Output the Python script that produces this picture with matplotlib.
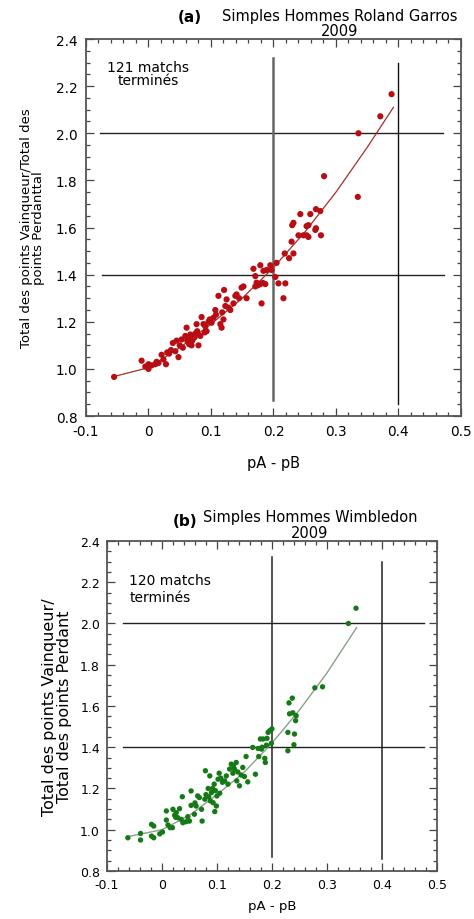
import matplotlib
matplotlib.use("Agg")
import matplotlib.pyplot as plt
from matplotlib.ticker import MultipleLocator

# ---------------- Data: panel (a) Roland Garros 2009 ----------------
rg_x = [-0.055, -0.011, -0.005, 0.0, 0.0, 0.005, 0.011, 0.016, 0.021, 0.024,
        0.028, 0.03, 0.033, 0.039, 0.043, 0.045, 0.048, 0.05, 0.053, 0.059,
        0.061, 0.064, 0.067, 0.069, 0.072, 0.075, 0.077, 0.08, 0.083, 0.085,
        0.091, 0.093, 0.096, 0.101, 0.104, 0.107, 0.112, 0.115, 0.117, 0.12,
        0.121, 0.123, 0.125, 0.131, 0.136, 0.139, 0.141, 0.149, 0.152, 0.157,
        0.168, 0.171, 0.171, 0.173, 0.179, 0.179, 0.181, 0.184, 0.187, 0.189,
        0.195, 0.197, 0.203, 0.205, 0.208, 0.216, 0.219, 0.218, 0.225, 0.229,
        0.23, 0.232, 0.232, 0.24, 0.243, 0.248, 0.253, 0.256, 0.256, 0.259,
        0.267, 0.268, 0.275, 0.276, 0.281, 0.336, 0.335, 0.371, 0.389,
        0.062, 0.07, 0.078, 0.088, 0.098, 0.108, 0.118, 0.128, 0.145, 0.036,
        0.013, 0.055, 0.065, 0.074, 0.09, 0.175, 0.183, 0.253, 0.268]
rg_y = [0.966, 1.035, 1.01, 1.0, 1.02, 1.015, 1.02, 1.025, 1.06, 1.04,
        1.02, 1.07, 1.065, 1.11, 1.075, 1.12, 1.05, 1.10, 1.125, 1.14,
        1.175, 1.125, 1.146, 1.10, 1.13, 1.15, 1.19, 1.10, 1.14, 1.22,
        1.18, 1.16, 1.20, 1.196, 1.217, 1.25, 1.31, 1.19, 1.175, 1.21,
        1.335, 1.267, 1.295, 1.25, 1.278, 1.31, 1.316, 1.345, 1.35, 1.30,
        1.425, 1.394, 1.35, 1.366, 1.36, 1.44, 1.278, 1.416, 1.36, 1.42,
        1.44, 1.42, 1.39, 1.45, 1.363, 1.30, 1.363, 1.49, 1.47, 1.54,
        1.61, 1.62, 1.49, 1.567, 1.657, 1.567, 1.567, 1.56, 1.61, 1.657,
        1.59, 1.678, 1.67, 1.567, 1.818, 2.0, 1.73, 2.072, 2.166,
        1.12, 1.12, 1.16, 1.19, 1.21, 1.23, 1.24, 1.26, 1.30, 1.08,
        1.03, 1.09, 1.105, 1.135, 1.155, 1.355, 1.365, 1.606, 1.597]
rg_fit_x = [-0.055, 0.0, 0.05, 0.1, 0.15, 0.2, 0.25, 0.3, 0.35, 0.392]
rg_fit_y = [0.968, 1.005, 1.09, 1.19, 1.30, 1.43, 1.58, 1.75, 1.94, 2.11]

# ---------------- Data: panel (b) Wimbledon 2009 ----------------
wb_x = [-0.062, -0.039, -0.039, -0.019, -0.015, -0.019, -0.015, -0.004, 0.001,
        0.008, 0.011, 0.015, 0.019, 0.008, 0.02, 0.023, 0.026, 0.029, 0.032,
        0.035, 0.037, 0.038, 0.044, 0.047, 0.05, 0.053, 0.053, 0.059, 0.062,
        0.065, 0.068, 0.072, 0.073, 0.078, 0.079, 0.084, 0.085, 0.087, 0.088,
        0.092, 0.093, 0.095, 0.096, 0.099, 0.1, 0.102, 0.104, 0.105, 0.114,
        0.117, 0.12, 0.123, 0.126, 0.129, 0.132, 0.135, 0.136, 0.141, 0.144,
        0.147, 0.15, 0.153, 0.156, 0.165, 0.17, 0.175, 0.176, 0.179, 0.181,
        0.184, 0.187, 0.188, 0.19, 0.191, 0.193, 0.196, 0.199, 0.2,
        0.229, 0.229, 0.231, 0.232, 0.237, 0.238, 0.24, 0.241, 0.243, 0.244,
        0.278, 0.292, 0.339, 0.353,
        0.09, 0.097, 0.11, 0.138, 0.06, 0.025, 0.08, 0.107, 0.13, 0.182]
wb_y = [0.961, 0.982, 0.95, 1.026, 1.018, 0.969, 0.961, 0.98, 0.989,
        1.047, 1.023, 1.01, 1.01, 1.091, 1.099, 1.07, 1.083, 1.058, 1.102,
        1.05, 1.16, 1.034, 1.039, 1.063, 1.042, 1.188, 1.118, 1.075, 1.115,
        1.164, 1.156, 1.099, 1.042, 1.148, 1.286, 1.2, 1.16, 1.261, 1.14,
        1.2, 1.131, 1.221, 1.088, 1.115, 1.164, 1.245, 1.274, 1.177, 1.237,
        1.261, 1.221, 1.294, 1.318, 1.274, 1.294, 1.326, 1.237, 1.213, 1.265,
        1.302, 1.258, 1.355, 1.232, 1.399, 1.269, 1.394, 1.355, 1.44, 1.391,
        1.44, 1.346, 1.326, 1.41, 1.443, 1.472, 1.48, 1.419, 1.489,
        1.472, 1.383, 1.615, 1.562, 1.638, 1.567, 1.412, 1.464, 1.529, 1.553,
        1.688, 1.693, 2.0, 2.074,
        1.18, 1.19, 1.23, 1.28, 1.13, 1.06, 1.17, 1.25, 1.31, 1.40]
wb_fit_x = [-0.065, 0.0, 0.05, 0.1, 0.15, 0.2, 0.25, 0.3, 0.354]
wb_fit_y = [0.965, 1.0, 1.07, 1.17, 1.28, 1.42, 1.58, 1.76, 1.98]

x_ticks = [-0.1, 0, 0.1, 0.2, 0.3, 0.4, 0.5]
x_ticklabels = ["-0.1", "0", "0.1", "0.2", "0.3", "0.4", "0.5"]
y_ticks = [0.8, 1.0, 1.2, 1.4, 1.6, 1.8, 2.0, 2.2, 2.4]
y_ticklabels = ["0.8", "1.0", "1.2", "1.4", "1.6", "1.8", "2.0", "2.2", "2.4"]

plt.rcParams['font.family'] = ['DejaVu Sans']

fig = plt.figure(figsize=(4.74, 9.2), dpi=100)


def style_axes(ax, fs, spine_col, xpad, ypad):
    ax.set_xlim(-0.1, 0.5)
    ax.set_ylim(0.8, 2.4)
    ax.set_xticks(x_ticks)
    ax.set_xticklabels(x_ticklabels)
    ax.set_yticks(y_ticks)
    ax.set_yticklabels(y_ticklabels)
    ax.xaxis.set_minor_locator(MultipleLocator(0.02))
    ax.yaxis.set_minor_locator(MultipleLocator(0.05))
    ax.tick_params(which='both', direction='in', top=True, right=True,
                   labelsize=fs, color='#444444', width=0.9)
    ax.tick_params(which='major', length=6)
    ax.tick_params(which='minor', length=3)
    ax.tick_params(axis='x', which='major', pad=xpad)
    ax.tick_params(axis='y', which='major', pad=ypad)
    for s in ax.spines.values():
        s.set_color(spine_col)
        s.set_linewidth(1.3)


# ---------------- Panel (a) ----------------
axa = fig.add_axes([0.1814, 0.5467, 0.791, 0.4098])
style_axes(axa, 9.8, '#555555', 6, 6)
axa.plot([-0.078, 0.471], [2.0, 2.0], color='#222222', lw=1.0)
axa.plot([-0.075, 0.473], [1.4, 1.4], color='#222222', lw=1.0)
axa.plot([0.2, 0.2], [0.87, 2.32], color='#666666', lw=1.8)
axa.plot([0.4, 0.4], [0.85, 2.30], color='#111111', lw=1.0)
axa.plot(rg_fit_x, rg_fit_y, color='#a0302a', lw=0.9, zorder=3)
axa.scatter(rg_x, rg_y, s=20, color='#b80d12', edgecolors='none', zorder=4)
axa.text(0.0, 2.28, "121 matchs", fontsize=10, ha='center', va='center')
axa.text(0.0, 2.225, "terminés", fontsize=10, ha='center', va='center')
axa.set_xlabel("pA - pB", fontsize=10.5, labelpad=12)
axa.set_ylabel("Total des points Vainqueur/Total des\npoints Perdanttal",
               fontsize=9.5, linespacing=0.9, labelpad=8)
fig.text(190 / 474, 1 - 17 / 920, "(a)", fontsize=11, fontweight='bold',
         ha='center', va='center')
fig.text(340 / 474, 1 - 17 / 920, "Simples Hommes Roland Garros", fontsize=10.5,
         ha='center', va='center')
fig.text(340 / 474, 1 - 31 / 920, "2009", fontsize=10.5,
         ha='center', va='center')

# ---------------- Panel (b) ----------------
axb = fig.add_axes([0.2257, 0.0522, 0.696, 0.3587])
style_axes(axb, 9, '#555555', 5, 5)
axb.plot([-0.07, 0.476], [2.0, 2.0], color='#222222', lw=1.0)
axb.plot([-0.07, 0.476], [1.4, 1.4], color='#222222', lw=1.0)
axb.plot([0.2, 0.2], [0.87, 2.32], color='#222222', lw=1.1)
axb.plot([0.4, 0.4], [0.86, 2.30], color='#222222', lw=1.1)
axb.plot(wb_fit_x, wb_fit_y, color='#8aa08a', lw=1.0, zorder=3)
axb.scatter(wb_x, wb_y, s=15, color='#157a15', edgecolors='none', zorder=4)
axb.text(-0.06, 2.21, "120 matchs", fontsize=10, ha='left', va='center')
axb.text(-0.058, 2.13, "terminés", fontsize=10, ha='left', va='center')
axb.set_xlabel("pA - pB", fontsize=9.5, labelpad=6)
axb.set_ylabel("Total des points Vainqueur/\nTotal des points Perdant",
               fontsize=11.5, linespacing=0.95, labelpad=6)
fig.text(185 / 474, 1 - 521 / 920, "(b)", fontsize=11, fontweight='bold',
         ha='center', va='center')
fig.text(310 / 474, 1 - 518 / 920, "Simples Hommes Wimbledon", fontsize=10.5,
         ha='center', va='center')
fig.text(310 / 474, 1 - 534 / 920, "2009", fontsize=10.5,
         ha='center', va='center')

fig.savefig("out.png", dpi=100)
